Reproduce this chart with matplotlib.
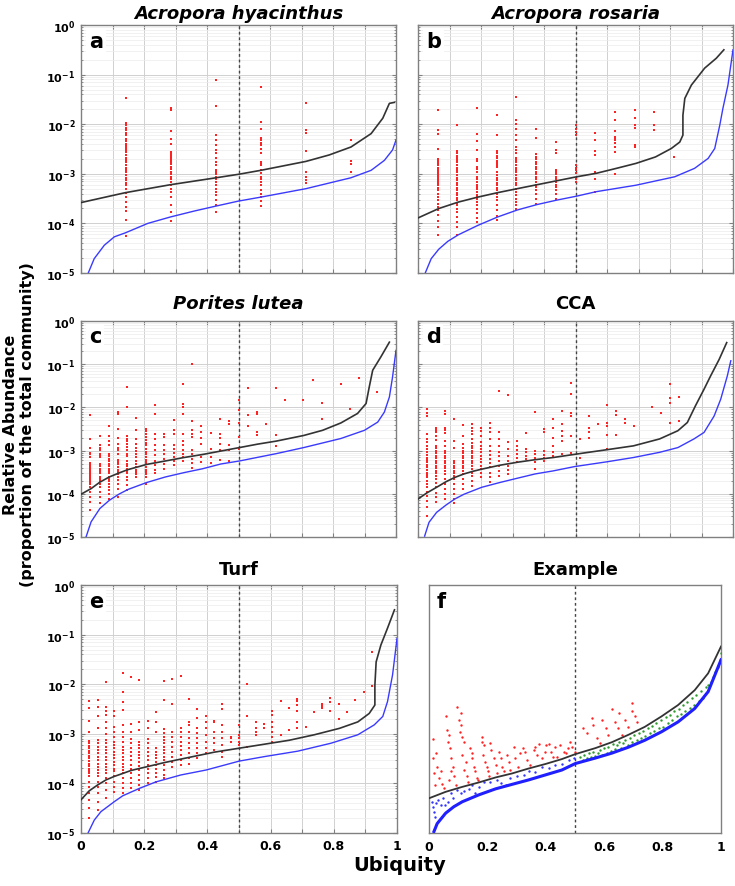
import numpy as np
import matplotlib
matplotlib.use("Agg")
import matplotlib.pyplot as plt
from matplotlib.ticker import LogLocator, NullFormatter, FixedLocator

plt.rcParams['font.family'] = ['DejaVu Sans']
plt.rcParams['mathtext.fontset'] = 'dejavusans'

# ---------------- data (log10 relative abundance) ----------------
# panel a: Acropora hyacinthus
ubiq_a = [0.143, 0.286, 0.429, 0.571, 0.714, 0.857]
pts_a = [
    [-1.47, -1.97, -2.02, -2.07, -2.12, -2.17, -2.22, -2.29, -2.34, -2.39, -2.44, -2.48, -2.52, -2.57, -2.62,
     -2.68, -2.72, -2.77, -2.83, -2.88, -2.93, -2.97, -3.03, -3.08, -3.13, -3.18, -3.23, -3.30, -3.38, -3.47,
     -3.57, -3.67, -3.76, -3.94, -4.25],
    [-1.68, -1.72, -2.13, -2.29, -2.39, -2.56, -2.59, -2.62, -2.66, -2.69, -2.73, -2.77, -2.81, -2.86, -2.91,
     -2.96, -3.01, -3.06, -3.11, -3.16, -3.22, -3.30, -3.36, -3.47, -3.63, -3.77, -3.95],
    [-1.11, -1.63, -2.21, -2.32, -2.42, -2.52, -2.59, -2.68, -2.76, -2.83, -2.93, -2.96, -3.01, -3.06, -3.11,
     -3.16, -3.22, -3.30, -3.36, -3.43, -3.53, -3.63, -3.77],
    [-1.26, -1.95, -2.09, -2.27, -2.32, -2.37, -2.42, -2.49, -2.59, -2.76, -2.79, -2.83, -2.93, -2.99, -3.06,
     -3.11, -3.16, -3.22, -3.33, -3.40, -3.47, -3.55, -3.65],
    [-1.57, -2.11, -2.17, -2.54, -2.96, -3.06, -3.13, -3.18],
    [-2.31, -2.32, -2.75, -2.81, -2.96],
]
black_a_x = [0, 0.141, 0.284, 0.429, 0.5, 0.571, 0.714, 0.788, 0.857, 0.921, 0.958, 0.979, 0.995]
black_a_y = [-3.58, -3.38, -3.22, -3.08, -3.01, -2.93, -2.75, -2.62, -2.46, -2.19, -1.88, -1.58, -1.56]
blue_a_x = [0.023, 0.042, 0.074, 0.106, 0.141, 0.212, 0.284, 0.36, 0.429, 0.5, 0.571, 0.714, 0.857, 0.921,
            0.963, 0.989, 1.0]
blue_a_y = [-5.0, -4.71, -4.44, -4.27, -4.19, -4.0, -3.87, -3.75, -3.65, -3.55, -3.47, -3.30, -3.08, -2.93,
            -2.73, -2.52, -2.32]

# panel b: Acropora rosaria
ubiq_b = [0.0625, 0.125, 0.1875, 0.25, 0.3125, 0.375, 0.4375, 0.5, 0.5625, 0.625, 0.6875, 0.75, 0.8125]
pts_b = [
    [-1.72, -2.12, -2.19, -2.51, -2.71, -2.75, -2.79, -2.83, -2.88, -2.93, -2.96, -2.99, -3.03, -3.06, -3.10,
     -3.13, -3.16, -3.20, -3.23, -3.28, -3.33, -3.40, -3.47, -3.53, -3.60, -3.67, -3.73, -3.84, -3.96, -4.07, -4.24],
    [-2.01, -2.54, -2.59, -2.64, -2.68, -2.73, -2.77, -2.83, -2.88, -2.93, -2.97, -3.03, -3.08, -3.13, -3.18,
     -3.23, -3.28, -3.33, -3.38, -3.43, -3.49, -3.53, -3.58, -3.63, -3.70, -3.77, -3.87, -3.97, -4.07, -4.24],
    [-1.68, -2.19, -2.34, -2.52, -2.71, -2.75, -2.86, -2.91, -2.96, -3.06, -3.11, -3.16, -3.22, -3.26, -3.31,
     -3.36, -3.42, -3.47, -3.51, -3.57, -3.63, -3.71, -3.80, -3.89, -3.97],
    [-1.82, -2.22, -2.54, -2.59, -2.64, -2.69, -2.75, -2.79, -2.83, -2.86, -2.96, -3.03, -3.08, -3.13, -3.18,
     -3.23, -3.28, -3.33, -3.40, -3.47, -3.53, -3.63, -3.73, -3.85, -3.94],
    [-1.45, -1.92, -1.99, -2.09, -2.21, -2.32, -2.46, -2.52, -2.59, -2.68, -2.73, -2.77, -2.83, -2.88, -2.93,
     -2.97, -3.03, -3.08, -3.13, -3.18, -3.23, -3.30, -3.36, -3.43, -3.50, -3.57, -3.63, -3.70],
    [-2.09, -2.27, -2.61, -2.66, -2.71, -2.76, -2.81, -2.86, -2.91, -2.96, -3.01, -3.06, -3.11, -3.16, -3.22,
     -3.26, -3.33, -3.40, -3.50, -3.60],
    [-2.36, -2.52, -2.59, -2.93, -2.97, -3.01, -3.06, -3.11, -3.16, -3.22, -3.26, -3.33, -3.40, -3.50],
    [-2.02, -2.09, -2.15, -2.22, -2.83, -2.88, -2.93, -2.99, -3.10, -3.16],
    [-2.17, -2.32, -2.54, -2.62, -2.96, -3.10, -3.36],
    [-1.76, -1.92, -2.14, -2.25, -2.29, -2.32, -2.37, -2.46, -2.56, -3.01],
    [-1.72, -1.88, -2.01, -2.07, -2.41, -2.46],
    [-1.76, -2.01, -2.12],
    [-2.66],
]
black_b_x = [0, 0.066, 0.128, 0.19, 0.253, 0.315, 0.378, 0.441, 0.504, 0.566, 0.63, 0.692, 0.754, 0.804,
             0.831, 0.841, 0.841, 0.847, 0.868, 0.91, 0.947, 0.971]
black_b_y = [-3.89, -3.70, -3.57, -3.47, -3.38, -3.30, -3.22, -3.14, -3.06, -2.99, -2.89, -2.79, -2.66, -2.49,
             -2.36, -2.22, -1.82, -1.48, -1.21, -0.87, -0.67, -0.50]
blue_b_x = [0.023, 0.042, 0.066, 0.095, 0.128, 0.19, 0.253, 0.315, 0.378, 0.441, 0.504, 0.566, 0.692, 0.815,
            0.878, 0.921, 0.942, 0.958, 0.968, 0.984, 1.0]
blue_b_y = [-5.0, -4.71, -4.52, -4.36, -4.23, -4.04, -3.87, -3.73, -3.62, -3.53, -3.45, -3.36, -3.23, -3.06,
            -2.89, -2.69, -2.49, -2.02, -1.68, -1.21, -0.50]

# panel c: Porites lutea
ubiq_c = [0.029, 0.059, 0.088, 0.118, 0.147, 0.176, 0.206, 0.235, 0.265, 0.294, 0.324, 0.353, 0.382, 0.412,
          0.441, 0.471, 0.5, 0.529, 0.559, 0.588, 0.618, 0.647, 0.706, 0.735, 0.765, 0.824, 0.853, 0.882, 0.941]
pts_c = [
    [-2.18, -2.72, -2.93, -3.06, -3.09, -3.15, -3.29, -3.34, -3.38, -3.42, -3.46, -3.50, -3.53, -3.57, -3.61,
     -3.65, -3.69, -3.73, -3.77, -3.84, -3.96, -4.07, -4.19, -4.37],
    [-2.67, -2.88, -2.93, -2.99, -3.07, -3.11, -3.15, -3.30, -3.36, -3.42, -3.47, -3.53, -3.60, -3.65, -3.70,
     -3.77, -3.84, -3.96, -4.07, -4.21],
    [-2.42, -2.67, -2.78, -2.88, -3.07, -3.13, -3.19, -3.24, -3.30, -3.36, -3.42, -3.47, -3.53, -3.60, -3.65,
     -3.70, -3.77, -3.84, -3.92, -4.00, -4.11],
    [-2.11, -2.16, -2.49, -2.70, -2.84, -2.93, -2.99, -3.07, -3.21, -3.26, -3.32, -3.38, -3.44, -3.50, -3.55,
     -3.61, -3.69, -3.77, -3.88, -4.07],
    [-1.53, -1.98, -2.67, -2.72, -2.78, -2.84, -2.92, -2.99, -3.07, -3.13, -3.23, -3.30, -3.36, -3.42, -3.47,
     -3.53, -3.60, -3.69, -3.80, -3.92],
    [-2.24, -2.53, -2.72, -2.84, -2.93, -3.01, -3.07, -3.15, -3.23, -3.30, -3.38, -3.44, -3.50, -3.55, -3.61],
    [-2.49, -2.55, -2.62, -2.69, -2.75, -2.82, -2.88, -2.96, -3.03, -3.09, -3.15, -3.21, -3.26, -3.32, -3.38,
     -3.44, -3.50, -3.55, -3.61, -3.77],
    [-1.95, -2.15, -2.61, -2.72, -2.88, -2.99, -3.11, -3.23, -3.34, -3.46, -3.53],
    [-2.61, -2.69, -2.88, -2.98, -3.07, -3.19, -3.30, -3.42],
    [-2.30, -2.53, -2.61, -2.88, -2.96, -3.06, -3.15, -3.24, -3.34],
    [-1.45, -1.93, -1.99, -2.15, -2.61, -2.78, -2.88, -2.98, -3.07, -3.15, -3.24],
    [-1.00, -2.31, -2.53, -2.61, -2.69, -2.99, -3.09, -3.19, -3.29, -3.40],
    [-2.42, -2.57, -2.70, -2.84, -3.15, -3.26],
    [-2.59, -2.96, -3.15, -3.29],
    [-2.26, -2.61, -2.70, -2.84, -2.98, -3.21],
    [-2.31, -2.39, -2.88, -2.98, -3.23],
    [-1.84, -2.07, -2.36, -2.69, -2.96],
    [-1.54, -2.18, -2.42],
    [-2.11, -2.15, -2.57, -2.65],
    [-2.38],
    [-1.55, -2.65, -2.90],
    [-1.82],
    [-1.84],
    [-1.36],
    [-1.90, -2.28],
    [-1.45],
    [-2.03],
    [-1.33],
    [-1.64],
]
black_c_x = [0, 0.032, 0.06, 0.09, 0.12, 0.149, 0.179, 0.208, 0.268, 0.327, 0.386, 0.444, 0.503, 0.561, 0.62,
             0.707, 0.767, 0.825, 0.878, 0.905, 0.915, 0.926, 0.952, 0.979]
black_c_y = [-4.01, -3.88, -3.73, -3.61, -3.52, -3.44, -3.38, -3.32, -3.24, -3.16, -3.09, -3.01, -2.93, -2.85,
             -2.78, -2.65, -2.53, -2.36, -2.14, -1.91, -1.53, -1.14, -0.83, -0.49]
blue_c_x = [0.016, 0.032, 0.06, 0.09, 0.12, 0.149, 0.208, 0.268, 0.327, 0.386, 0.444, 0.503, 0.62, 0.707,
            0.825, 0.9, 0.942, 0.963, 0.979, 0.989, 1.0]
blue_c_y = [-5.0, -4.65, -4.34, -4.15, -4.01, -3.90, -3.74, -3.61, -3.51, -3.42, -3.31, -3.24, -3.07, -2.93,
            -2.72, -2.53, -2.34, -2.11, -1.76, -1.30, -0.68]

# panel d: CCA
ubiq_d = [0.029, 0.057, 0.086, 0.114, 0.143, 0.171, 0.2, 0.229, 0.257, 0.286, 0.314, 0.343, 0.371, 0.4,
          0.429, 0.457, 0.486, 0.514, 0.543, 0.571, 0.6, 0.629, 0.657, 0.686, 0.743, 0.771, 0.8, 0.829]
pts_d = [
    [-2.03, -2.13, -2.21, -2.62, -2.73, -2.81, -2.89, -2.97, -3.04, -3.10, -3.16, -3.21, -3.27, -3.34, -3.39,
     -3.44, -3.51, -3.57, -3.62, -3.70, -3.78, -3.85, -3.95, -4.04, -4.16, -4.31, -4.51],
    [-2.47, -2.52, -2.57, -2.66, -2.75, -2.89, -2.95, -3.00, -3.06, -3.12, -3.18, -3.24, -3.29, -3.35, -3.41,
     -3.47, -3.52, -3.58, -3.66, -3.75, -3.85, -3.97, -4.08, -4.20],
    [-2.08, -2.16, -2.47, -2.52, -2.60, -2.77, -2.89, -3.00, -3.06, -3.12, -3.18, -3.24, -3.29, -3.35, -3.41,
     -3.47, -3.54, -3.66, -3.78, -3.89, -4.01, -4.12],
    [-2.27, -2.77, -2.95, -3.24, -3.29, -3.35, -3.41, -3.47, -3.52, -3.58, -3.66, -3.78, -3.89, -4.01, -4.12, -4.21],
    [-2.41, -2.66, -2.85, -2.93, -3.00, -3.06, -3.12, -3.18, -3.24, -3.29, -3.35, -3.41, -3.47, -3.54, -3.66,
     -3.78, -3.89],
    [-2.39, -2.47, -2.54, -2.62, -2.73, -2.83, -2.89, -2.95, -3.00, -3.06, -3.12, -3.18, -3.24, -3.29, -3.35,
     -3.43, -3.51, -3.58, -3.70, -3.81],
    [-2.47, -2.54, -2.66, -2.81, -2.89, -2.97, -3.04, -3.12, -3.20, -3.27, -3.35, -3.43, -3.51, -3.62],
    [-2.35, -2.47, -2.58, -2.73, -2.89, -3.00, -3.10, -3.20, -3.29, -3.39, -3.51, -3.62, -3.72],
    [-1.62, -2.58, -2.73, -2.89, -3.03, -3.12, -3.24, -3.35, -3.47, -3.58],
    [-1.71, -2.81, -2.97, -3.12, -3.24, -3.35, -3.44, -3.54],
    [-2.77, -2.89, -2.98, -3.08, -3.18, -3.27],
    [-2.60, -2.97, -3.04, -3.12, -3.20],
    [-2.10, -3.00, -3.08, -3.16, -3.27, -3.43],
    [-2.49, -2.57, -3.00, -3.10, -3.18, -3.25],
    [-2.26, -2.47, -2.70, -2.89, -3.03, -3.12],
    [-2.08, -2.39, -2.54, -2.67, -2.77, -3.08],
    [-1.43, -1.69, -2.12, -2.21, -2.66, -3.06],
    [-2.73, -3.18],
    [-2.20, -2.47, -2.58, -2.70],
    [-2.39],
    [-1.95, -2.35, -2.43, -2.64, -2.97],
    [-2.08, -2.18, -2.64],
    [-2.27, -2.37],
    [-2.44],
    [-1.98],
    [-2.13],
    [-1.46, -1.79, -1.89, -2.35],
    [-1.75, -2.31],
]
black_d_x = [0, 0.028, 0.059, 0.089, 0.117, 0.146, 0.174, 0.202, 0.259, 0.315, 0.372, 0.429, 0.485, 0.541,
             0.599, 0.684, 0.767, 0.825, 0.855, 0.881, 0.908, 0.929, 0.956, 0.98]
black_d_y = [-4.12, -3.98, -3.85, -3.72, -3.62, -3.54, -3.48, -3.43, -3.34, -3.27, -3.21, -3.16, -3.10, -3.04,
             -2.98, -2.89, -2.73, -2.54, -2.35, -1.96, -1.58, -1.27, -0.89, -0.50]
blue_d_x = [0.021, 0.035, 0.059, 0.089, 0.117, 0.146, 0.202, 0.259, 0.315, 0.372, 0.429, 0.497, 0.599, 0.684,
            0.767, 0.825, 0.876, 0.908, 0.94, 0.961, 0.982, 0.993]
blue_d_y = [-4.98, -4.66, -4.43, -4.26, -4.12, -4.01, -3.85, -3.74, -3.64, -3.54, -3.47, -3.37, -3.26, -3.16,
            -3.04, -2.93, -2.73, -2.58, -2.20, -1.81, -1.27, -0.92]

# panel e: Turf
ubiq_e = [0.026, 0.053, 0.079, 0.105, 0.132, 0.158, 0.184, 0.211, 0.237, 0.263, 0.289, 0.316, 0.342, 0.368,
          0.395, 0.421, 0.447, 0.474, 0.5, 0.526, 0.553, 0.579, 0.605, 0.632, 0.658, 0.684, 0.711, 0.737,
          0.763, 0.789, 0.816, 0.842, 0.868, 0.895, 0.921]
pts_e = [
    [-2.34, -2.47, -2.74, -2.96, -3.15, -3.19, -3.24, -3.29, -3.35, -3.39, -3.44, -3.49, -3.55, -3.60, -3.64,
     -3.70, -3.75, -3.80, -3.86, -3.97, -4.07, -4.20, -4.33, -4.49, -4.69],
    [-2.32, -2.45, -2.65, -2.88, -3.12, -3.19, -3.26, -3.33, -3.39, -3.46, -3.53, -3.60, -3.66, -3.73, -3.80,
     -3.86, -3.97, -4.07, -4.20, -4.37, -4.54],
    [-1.96, -2.45, -2.54, -2.63, -2.76, -2.89, -3.01, -3.12, -3.19, -3.26, -3.33, -3.39, -3.46, -3.53, -3.60,
     -3.66, -3.73, -3.80, -3.90, -4.00, -4.13, -4.30],
    [-2.54, -2.65, -2.86, -2.96, -3.06, -3.16, -3.23, -3.29, -3.36, -3.43, -3.49, -3.56, -3.63, -3.70, -3.76,
     -3.86, -3.97, -4.07, -4.17],
    [-1.78, -2.16, -2.35, -2.52, -2.82, -2.96, -3.06, -3.16, -3.26, -3.33, -3.39, -3.46, -3.53, -3.60, -3.66,
     -3.73, -3.80, -3.90, -4.00, -4.10, -4.20],
    [-1.85, -2.81, -2.96, -3.10, -3.19, -3.28, -3.36, -3.44, -3.53, -3.62, -3.71, -3.80, -3.90, -4.00, -4.10],
    [-1.92, -2.76, -2.92, -3.16, -3.23, -3.29, -3.36, -3.43, -3.49, -3.56, -3.64, -3.73, -3.83, -3.93, -4.03, -4.13],
    [-2.74, -2.89, -3.10, -3.19, -3.28, -3.36, -3.44, -3.53, -3.62, -3.71, -3.80, -3.90, -4.00],
    [-2.57, -2.77, -2.96, -3.29, -3.36, -3.43, -3.49, -3.56, -3.63, -3.71, -3.80, -3.88, -3.97],
    [-1.94, -2.32, -2.90, -2.99, -3.06, -3.12, -3.19, -3.26, -3.33, -3.39, -3.46, -3.53, -3.63, -3.73, -3.83, -3.90],
    [-1.90, -2.39, -2.96, -3.06, -3.16, -3.26, -3.36, -3.46, -3.56, -3.66],
    [-1.83, -2.89, -2.96, -3.06, -3.16, -3.24, -3.33, -3.43, -3.53, -3.63],
    [-2.30, -2.76, -2.82, -2.96, -3.09, -3.19, -3.29, -3.39, -3.49, -3.60],
    [-2.50, -2.69, -2.89, -2.99, -3.09, -3.19, -3.29, -3.39, -3.49],
    [-2.65, -2.76, -2.89, -3.02, -3.16, -3.29, -3.39],
    [-2.74, -2.77, -2.96, -3.09, -3.19, -3.33],
    [-2.39, -2.49, -2.82, -2.96, -3.09, -3.23, -3.36, -3.46],
    [-3.06, -3.09, -3.16],
    [-2.82, -3.02, -3.09, -3.16, -3.23],
    [-2.00, -2.65, -3.26],
    [-2.77, -2.89, -2.96, -3.02],
    [-2.81, -2.89],
    [-2.54, -2.63, -2.76, -2.86, -2.96, -3.06, -3.16],
    [-2.34, -3.02],
    [-2.47, -2.92],
    [-2.30, -2.34, -2.42, -2.55, -2.76, -2.89],
    [-2.86],
    [-2.57],
    [-2.39, -2.43, -2.47],
    [-2.28, -2.35, -2.55],
    [-2.39, -2.70],
    [-2.57],
    [-2.32],
    [-2.16],
    [-1.36, -2.03],
]
black_e_x = [0, 0.026, 0.053, 0.079, 0.105, 0.132, 0.158, 0.211, 0.264, 0.316, 0.369, 0.422, 0.501, 0.58,
             0.659, 0.738, 0.818, 0.876, 0.912, 0.93, 0.93, 0.934, 0.949, 0.97, 0.992]
black_e_y = [-4.33, -4.15, -4.03, -3.93, -3.86, -3.80, -3.74, -3.66, -3.58, -3.51, -3.44, -3.37, -3.29, -3.21,
             -3.13, -3.02, -2.89, -2.76, -2.59, -2.42, -2.02, -1.55, -1.21, -0.87, -0.50]
blue_e_x = [0.023, 0.042, 0.063, 0.105, 0.132, 0.185, 0.237, 0.316, 0.396, 0.501, 0.58, 0.686, 0.791, 0.876,
            0.928, 0.955, 0.97, 0.986, 1.0]
blue_e_y = [-4.99, -4.74, -4.57, -4.37, -4.25, -4.10, -3.97, -3.83, -3.73, -3.55, -3.46, -3.35, -3.19, -3.02,
            -2.82, -2.65, -2.35, -1.81, -1.08]

# panel f: Example
black_f_x = [0, 0.057, 0.114, 0.171, 0.228, 0.284, 0.341, 0.398, 0.455, 0.501, 0.569, 0.626, 0.683, 0.739,
             0.796, 0.853, 0.91, 0.956, 1.0]
black_f_y = [-4.30, -4.17, -4.07, -3.98, -3.88, -3.80, -3.70, -3.61, -3.51, -3.41, -3.29, -3.17, -3.02, -2.86,
             -2.65, -2.42, -2.12, -1.78, -1.24]
blue_f_x = [0.017, 0.028, 0.057, 0.085, 0.114, 0.171, 0.228, 0.284, 0.341, 0.398, 0.455, 0.501, 0.569, 0.626,
            0.683, 0.739, 0.796, 0.853, 0.91, 0.956, 1.0]
blue_f_y = [-4.97, -4.81, -4.60, -4.47, -4.37, -4.23, -4.11, -4.02, -3.93, -3.83, -3.73, -3.60, -3.49, -3.39,
            -3.27, -3.13, -2.96, -2.76, -2.49, -2.15, -1.51]
red_f_x = [0.014, 0.023, 0.014, 0.028, 0.017, 0.034, 0.020, 0.046, 0.051, 0.040, 0.059, 0.063, 0.068, 0.066,
           0.071, 0.077, 0.082, 0.074, 0.085, 0.068, 0.091, 0.097, 0.102, 0.111, 0.108, 0.105, 0.114, 0.119,
           0.114, 0.125, 0.119, 0.131, 0.134, 0.142, 0.148, 0.146, 0.154, 0.159, 0.165, 0.168, 0.180, 0.182,
           0.188, 0.184, 0.193, 0.199, 0.203, 0.205, 0.210, 0.214, 0.222, 0.228, 0.233, 0.239, 0.245, 0.250,
           0.256, 0.267, 0.273, 0.279, 0.290, 0.296, 0.305, 0.313, 0.321, 0.330, 0.336, 0.347, 0.358, 0.364,
           0.370, 0.375, 0.387, 0.396, 0.400, 0.410, 0.419, 0.423, 0.430, 0.438, 0.449, 0.461, 0.469, 0.476,
           0.484, 0.491, 0.501, 0.526, 0.540, 0.557, 0.563, 0.575, 0.586, 0.592, 0.605, 0.614, 0.628, 0.637,
           0.646, 0.651, 0.660, 0.671, 0.680, 0.694, 0.696, 0.705, 0.711]
red_f_y = [-3.10, -3.39, -3.49, -3.66, -3.80, -3.90, -4.03, -4.02, -4.10, -3.76, -2.65, -2.92, -3.02, -3.16,
           -3.29, -3.49, -3.66, -3.76, -3.86, -3.93, -4.03, -2.45, -2.72, -2.59, -2.82, -2.96, -3.06, -3.16,
           -3.43, -3.56, -3.73, -3.86, -3.97, -3.29, -3.39, -3.49, -3.66, -3.76, -3.90, -3.93, -3.06, -3.16,
           -3.23, -3.43, -3.56, -3.66, -3.76, -3.86, -3.19, -3.33, -3.49, -3.63, -3.80, -3.36, -3.49, -3.66,
           -3.76, -3.43, -3.56, -3.73, -3.26, -3.49, -3.66, -3.39, -3.29, -3.36, -3.53, -3.63, -3.33, -3.26,
           -3.43, -3.21, -3.49, -3.36, -3.23, -3.21, -3.36, -3.46, -3.26, -3.46, -3.23, -3.36, -3.39, -3.29,
           -3.16, -3.26, -3.36, -2.88, -2.99, -2.69, -2.82, -3.09, -3.19, -2.72, -2.89, -3.02, -2.49, -2.76,
           -2.89, -2.59, -3.02, -2.72, -2.86, -2.37, -2.55, -2.65, -2.76]
bluept_f_x = [0.009, 0.014, 0.017, 0.020, 0.025, 0.032, 0.040, 0.048, 0.055, 0.066, 0.074, 0.082, 0.097,
              0.108, 0.119, 0.137, 0.148, 0.159, 0.171, 0.188, 0.210, 0.233, 0.245, 0.262, 0.279, 0.301,
              0.324, 0.341, 0.364, 0.387, 0.410, 0.432, 0.455, 0.478, 0.495]
bluept_f_y = [-4.37, -4.47, -4.57, -4.67, -4.40, -4.33, -4.44, -4.30, -4.44, -4.37, -4.20, -4.30, -4.13,
              -4.20, -4.15, -4.11, -4.03, -4.20, -4.07, -3.97, -3.98, -3.93, -4.00, -4.03, -3.90, -3.86,
              -3.83, -3.75, -3.78, -3.66, -3.68, -3.63, -3.60, -3.53, -3.49]
green_f_x = [0.518, 0.526, 0.532, 0.540, 0.548, 0.555, 0.563, 0.569, 0.578, 0.586, 0.592, 0.601, 0.609, 0.614,
             0.623, 0.631, 0.637, 0.643, 0.651, 0.658, 0.666, 0.671, 0.680, 0.688, 0.696, 0.703, 0.711, 0.719,
             0.726, 0.734, 0.739, 0.749, 0.757, 0.762, 0.771, 0.779, 0.787, 0.794, 0.802, 0.810, 0.817, 0.825,
             0.833, 0.840, 0.848, 0.856, 0.862, 0.870, 0.878, 0.885, 0.893, 0.901, 0.908, 0.916, 0.924, 0.931,
             0.939, 0.947, 0.956, 0.965, 0.973, 0.981, 0.990, 0.997, 0.999]
green_f_y = [-3.46, -3.53, -3.43, -3.49, -3.39, -3.46, -3.36, -3.44, -3.39, -3.33, -3.43, -3.29, -3.38, -3.26,
             -3.35, -3.21, -3.31, -3.23, -3.16, -3.28, -3.19, -3.13, -3.23, -3.08, -3.17, -3.02, -3.13, -2.99,
             -3.08, -2.94, -3.04, -2.89, -2.99, -2.84, -2.94, -2.79, -2.89, -2.72, -2.86, -2.67, -2.79, -2.62,
             -2.72, -2.54, -2.65, -2.50, -2.61, -2.41, -2.55, -2.35, -2.47, -2.28, -2.42, -2.22, -2.34, -2.14,
             -2.27, -2.05, -2.02, -1.95, -1.85, -1.76, -1.65, -1.51, -1.38]

titles = ['Acropora hyacinthus', 'Acropora rosaria', 'Porites lutea', 'CCA', 'Turf', 'Example']
italic = [True, True, True, False, False, False]
letters = ['a', 'b', 'c', 'd', 'e', 'f']
panels = [
    (ubiq_a, pts_a, black_a_x, black_a_y, blue_a_x, blue_a_y),
    (ubiq_b, pts_b, black_b_x, black_b_y, blue_b_x, blue_b_y),
    (ubiq_c, pts_c, black_c_x, black_c_y, blue_c_x, blue_c_y),
    (ubiq_d, pts_d, black_d_x, black_d_y, blue_d_x, blue_d_y),
    (ubiq_e, pts_e, black_e_x, black_e_y, blue_e_x, blue_e_y),
]

# ---------------- figure ----------------
fig = plt.figure(figsize=(7.35, 8.87), dpi=100)
W, H = 735.0, 887.0
boxes = [(81, 26, 315, 248), (418, 26, 315, 248),
         (81, 322, 315, 216), (418, 322, 315, 216),
         (81, 586, 316, 248), (429, 586, 292, 248)]
title_pad = [5, 5, 9, 9, 8, 8]
axes = []
for (l, t, w, h) in boxes:
    axes.append(fig.add_axes([l / W, 1 - (t + h) / H, w / W, h / H]))

RED = '#ff2222'
BLACK = '#333333'
BLUE = '#3a3aff'
GRIDC = '#d0d0d0'
xt = [0, 0.1, 0.2, 0.3, 0.4, 0.5, 0.6, 0.7, 0.8, 0.9, 1.0]
xtl = ['0', '', '0.2', '', '0.4', '', '0.6', '', '0.8', '', '1']
yt = [1e-5, 1e-4, 1e-3, 1e-2, 1e-1, 1e0]
ytl = [r'$\mathbf{10^{-5}}$', r'$\mathbf{10^{-4}}$', r'$\mathbf{10^{-3}}$',
       r'$\mathbf{10^{-2}}$', r'$\mathbf{10^{-1}}$', r'$\mathbf{10^{0}}$']

for i, ax in enumerate(axes):
    ax.set_yscale('log')
    ax.set_xlim(0, 1)
    ax.set_ylim(1e-5, 1)
    for s in ax.spines.values():
        s.set_color('#808080')
        s.set_linewidth(1.0)
    ax.set_xticks(xt)
    if i >= 4:
        ax.set_xticklabels(xtl, fontsize=9, fontweight='bold')
    else:
        ax.set_xticklabels([])
    if i < 5:
        ax.set_yticks(yt)
        ax.yaxis.set_minor_locator(LogLocator(base=10, subs=np.arange(2, 10), numticks=20))
        ax.yaxis.set_minor_formatter(NullFormatter())
        if i % 2 == 0:
            ax.set_yticklabels(ytl, fontsize=8)
        else:
            ax.set_yticklabels([])
        ax.grid(True, which='major', axis='both', color=GRIDC, lw=0.7)
        ax.grid(True, which='minor', axis='y', color='#ececec', lw=0.5)
        ax.tick_params(which='both', direction='in', top=True, right=True, color='#808080')
        ax.tick_params(which='major', length=3, pad=4)
        ax.tick_params(which='minor', length=1.5)
    else:
        ax.set_yticks([])
        ax.yaxis.set_minor_locator(FixedLocator([]))
        ax.tick_params(axis='x', length=0, pad=5)
    ax.set_axisbelow(True)
    ax.axvline(0.5, color='#444444', ls=(0, (2, 2)), lw=1.0, zorder=2)

    if i < 5:
        ubiq, pts, bx, by, ux, uy = panels[i]
        for x, col in zip(ubiq, pts):
            ax.scatter([x] * len(col), 10 ** np.array(col), s=3, c=RED, marker='s', linewidths=0, zorder=3)
        ax.plot(bx, 10 ** np.array(by), color=BLACK, lw=1.2, zorder=4)
        ax.plot(ux, 10 ** np.array(uy), color=BLUE, lw=1.0, zorder=4)
    else:
        ax.scatter(red_f_x, 10 ** np.array(red_f_y), s=3, c=RED, linewidths=0, zorder=3)
        ax.scatter(bluept_f_x, 10 ** np.array(bluept_f_y), s=3, c='#3333ff', linewidths=0, zorder=3)
        ax.scatter(green_f_x, 10 ** np.array(green_f_y), s=3, c='#2e9a2e', linewidths=0, zorder=3)
        ax.plot(black_f_x, 10 ** np.array(black_f_y), color=BLACK, lw=1.3, zorder=4)
        ax.plot(blue_f_x, 10 ** np.array(blue_f_y), color='#1f1fff', lw=2.2, zorder=4)

    ax.text(0.025, 0.975, letters[i], transform=ax.transAxes, ha='left', va='top',
            fontsize=15, fontweight='bold', zorder=6,
            bbox=dict(facecolor='white', edgecolor='none', pad=2))
    ax.set_title(titles[i], fontsize=13, fontweight='bold',
                 fontstyle='italic' if italic[i] else 'normal', pad=title_pad[i])

fig.text(400 / W, 1 - 866 / H, 'Ubiquity', ha='center', va='center', fontsize=14, fontweight='bold')
fig.text(19 / W, 1 - 425 / H, 'Relative Abundance\n(proportion of the total community)',
         ha='center', va='center', rotation=90, fontsize=11.5, fontweight='bold', linespacing=1.1)

fig.savefig('out.png', dpi=100)
